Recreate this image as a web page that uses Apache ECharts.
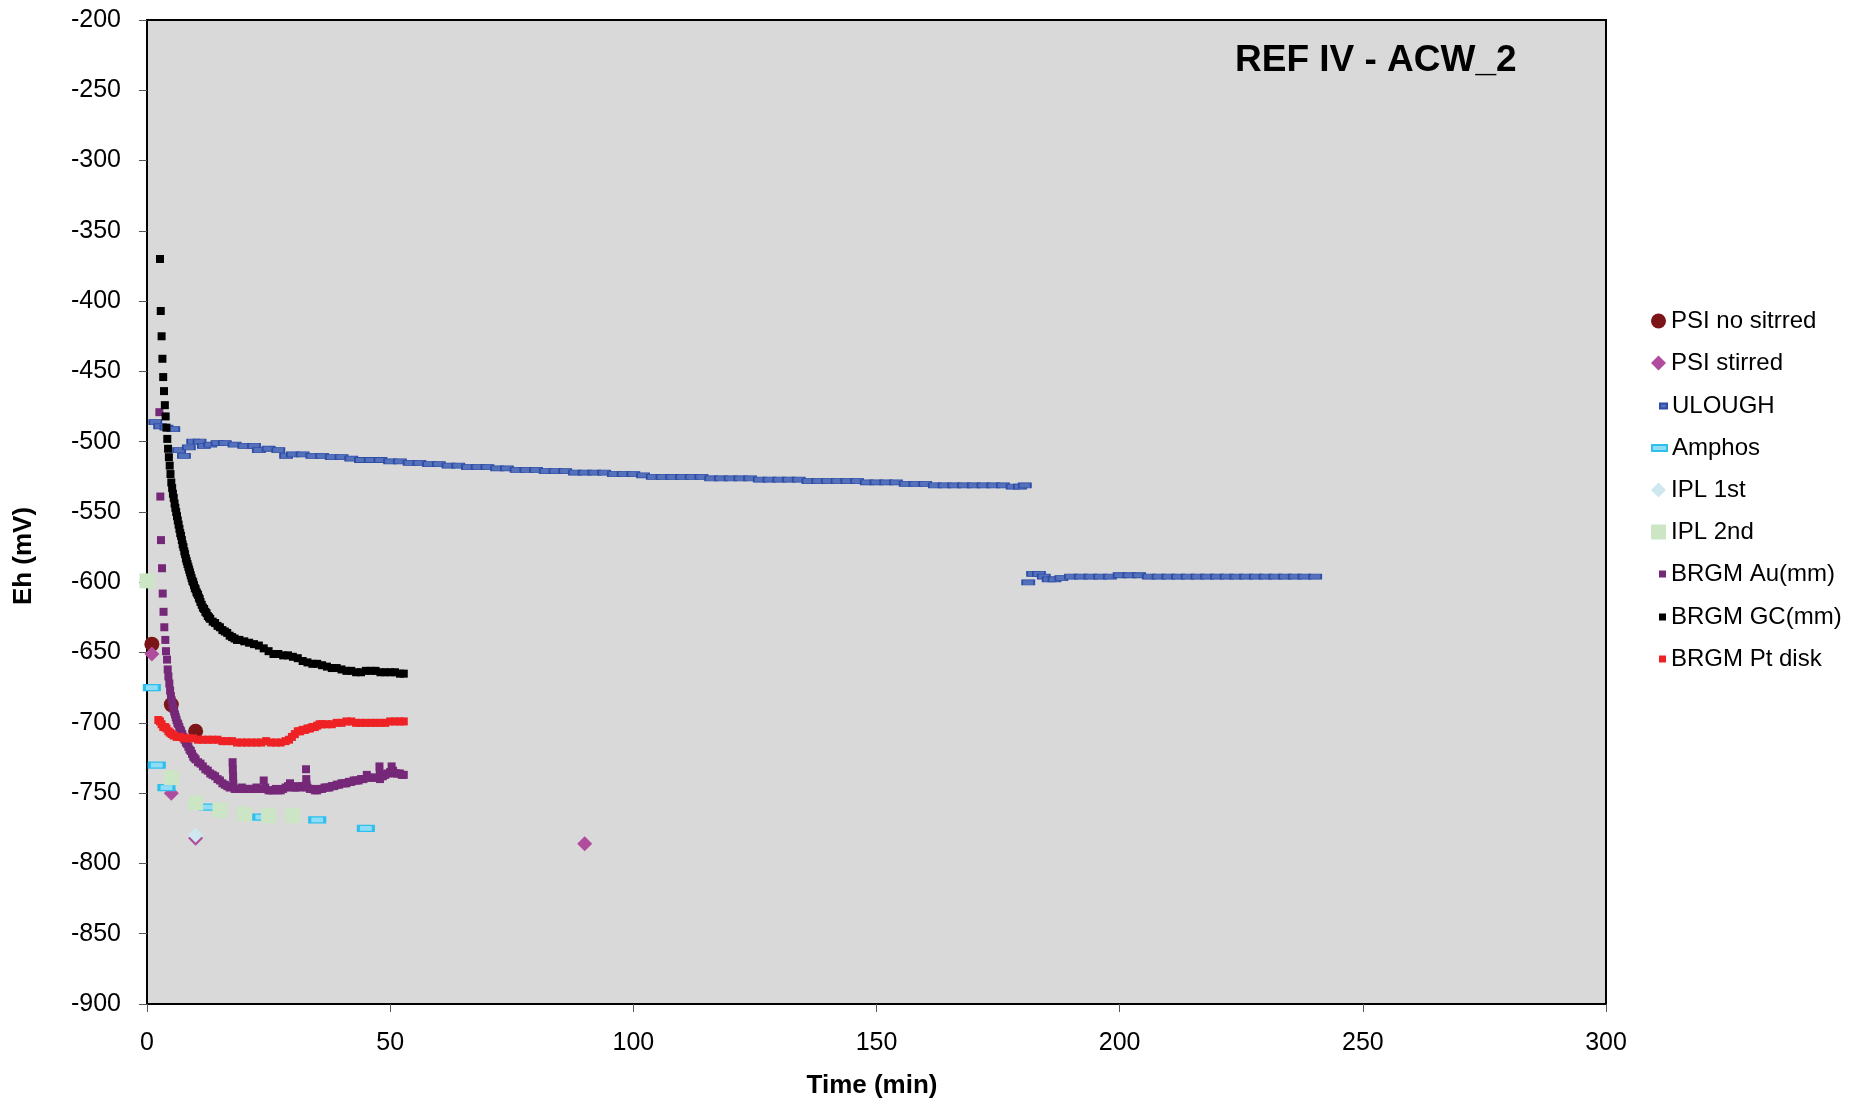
<!DOCTYPE html>
<html>
<head>
<meta charset="utf-8">
<title>REF IV - ACW_2</title>
<script src="https://cdn.jsdelivr.net/npm/echarts@6/dist/echarts.min.js"></script>
<style>
  html, body { margin: 0; padding: 0; background: #fff; }
  #chart { width: 1854px; height: 1104px; }
</style>
</head>
<body>
<div id="chart"></div>
<script>
// Eh (mV) against time (min) for each laboratory / electrode, as [time, Eh] pairs.
const psiNoStirred = [[1, -644], [5, -687], [10, -706]];

const psiStirred = [[1, -651], [5, -750], [10, -782], [90, -786]];

const ulough = [
  [1.7, -486], [2.7, -489], [4.0, -490], [5.4, -491], [6.6, -506], [7.6, -510], [8.6, -504],
  [9.5, -500], [10.8, -500], [11.7, -503], [13.0, -502], [14.5, -501], [16, -501], [18, -502],
  [20, -503], [22, -503], [23, -506], [25, -505], [27, -506], [28.6, -510], [30, -509], [32, -509],
  [34, -510], [36, -510], [38, -511], [40, -511], [42, -512], [44, -513], [46, -513], [48, -513],
  [50, -514], [52, -514], [54, -515], [56, -515], [58, -516], [60, -516], [62, -517], [64, -517],
  [66, -518], [68, -518], [70, -518], [72, -519], [74, -519], [76, -520], [78, -520], [80, -520],
  [82, -521], [84, -521], [86, -521], [88, -522], [90, -522], [92, -522], [94, -522], [96, -523],
  [98, -523], [100, -523], [102, -524], [104, -525], [106, -525], [108, -525], [110, -525],
  [112, -525], [114, -525], [116, -526], [118, -526], [120, -526], [122, -526], [124, -526],
  [126, -527], [128, -527], [130, -527], [132, -527], [134, -527], [136, -528], [138, -528],
  [140, -528], [142, -528], [144, -528], [146, -528], [148, -529], [150, -529], [152, -529],
  [154, -529], [156, -530], [158, -530], [160, -530], [162, -531], [164, -531], [166, -531],
  [168, -531], [170, -531], [172, -531], [174, -531], [176, -531], [178, -532], [179.5, -532],
  [180.5, -531],
  [181.2, -600], [182.2, -594], [183.4, -594], [184.4, -596], [185.4, -598], [186.6, -598],
  [188, -597], [190, -596], [192, -596], [194, -596], [196, -596], [198, -596], [200, -595],
  [202, -595], [204, -595], [206, -596], [208, -596], [210, -596], [212, -596], [214, -596],
  [216, -596], [218, -596], [220, -596], [222, -596], [224, -596], [226, -596], [228, -596],
  [230, -596], [232, -596], [234, -596], [236, -596], [238, -596], [240.2, -596]
];

const amphos = [[1, -675], [2, -730], [4, -746], [12.5, -760], [23.5, -767], [35, -769], [45, -775]];

const ipl1st = [[10, -780]];

const ipl2nd = [[0, -599], [5, -739], [10, -757], [15, -762], [20, -765], [25, -766], [30, -766]];

const brgmAu = [
  [2.54, -479], [2.74, -539], [2.88, -570], [3.09, -590], [3.23, -608], [3.40, -621], [3.56, -632],
  [3.77, -641], [3.91, -649], [4.12, -655], [4.26, -662],
  [4.4, -667], [4.59, -672], [4.75, -677], [4.92, -681], [5.08, -684], [5.25, -687], [5.42, -690],
  [5.58, -692], [5.76, -694], [5.92, -696], [6.08, -698], [6.25, -700], [6.42, -701], [6.64, -703],
  [6.83, -705], [7.0, -706], [7.25, -708], [7.5, -710], [7.75, -712], [8.0, -714], [8.25, -715],
  [8.5, -717], [8.75, -719], [9.0, -720], [9.25, -722], [9.5, -724], [9.75, -725], [10.0, -726],
  [10.5, -728], [11, -729], [11.5, -731], [12, -733], [12.5, -734], [13, -736], [13.5, -737],
  [14, -738], [14.5, -740], [15, -741], [15.5, -743], [16, -744], [16.5, -745], [17, -746],
  [17.6, -728], [17.65, -733], [17.7, -738], [17.75, -743], [18, -747], [18.5, -747], [19, -747],
  [19.5, -746], [20, -747], [20.5, -747], [21, -747], [21.5, -747], [22, -747], [22.5, -746],
  [23, -747], [23.5, -747], [24, -741], [24.3, -746], [25, -748], [25.5, -748], [26, -748],
  [26.5, -747], [27, -748], [27.5, -748], [28, -747], [28.5, -746], [29, -745], [29.4, -743],
  [30, -746], [30.5, -746], [31, -745], [31.5, -746], [32, -745], [32.7, -733], [32.75, -740],
  [32.8, -744], [33, -746], [33.5, -747], [34, -747], [34.5, -748], [35, -748], [35.5, -747],
  [36, -747], [36.5, -746], [37, -746], [37.5, -746], [38, -745], [38.5, -745], [39, -744],
  [39.5, -744], [40, -743], [40.5, -743], [41, -743], [41.5, -742], [42, -742], [42.5, -741],
  [43, -741], [43.5, -741], [44, -740], [44.5, -740], [45.2, -737], [45.5, -739], [46, -739],
  [46.5, -739], [47, -739], [47.8, -731], [47.85, -736], [47.9, -740], [48, -738], [48.5, -738],
  [49, -737], [49.5, -736], [50, -735], [50.3, -731], [50.35, -735], [50.6, -734], [51, -736],
  [51.4, -736], [52, -736], [52.4, -737], [52.8, -737]
];

const brgmGC = [
  [2.67, -370], [2.83, -407], [3.0, -425], [3.17, -441], [3.33, -454], [3.5, -464], [3.67, -474],
  [3.83, -482], [4.0, -490], [4.17, -498], [4.33, -505], [4.5, -511], [4.67, -517], [4.83, -523],
  [5.0, -529], [5.17, -533], [5.33, -537], [5.5, -540], [5.67, -544], [5.83, -547], [6.0, -550],
  [6.17, -553], [6.33, -556], [6.5, -559], [6.67, -562], [6.83, -565], [7.0, -567], [7.17, -570],
  [7.33, -573], [7.5, -575], [7.67, -578], [7.83, -580], [8.0, -583], [8.17, -585], [8.33, -587],
  [8.5, -589], [8.67, -591], [8.83, -593], [9.0, -595], [9.17, -597], [9.33, -599], [9.5, -600],
  [9.67, -602], [9.83, -604], [10.0, -605], [10.17, -607], [10.33, -608], [10.5, -609],
  [10.67, -611], [10.83, -612], [11.0, -614], [11.25, -616], [11.5, -618], [11.75, -619],
  [12.0, -621], [12.25, -622], [12.5, -624], [12.75, -625], [13.0, -626], [13.5, -628],
  [14.0, -629], [14.5, -631], [15.0, -632], [15.5, -634], [16.0, -635], [16.5, -636], [17.0, -638],
  [17.5, -639], [18.0, -640], [18.5, -641], [19, -641], [20, -642], [21, -643], [22, -644],
  [23, -645], [24, -647], [25, -649], [26, -651], [27, -651], [28, -652], [29, -652], [30, -653],
  [31, -654], [32, -656], [33, -657], [34, -658], [35, -658], [36, -659], [37, -660], [38, -661],
  [39, -661], [40, -662], [41, -663], [42, -663], [43, -664], [44, -664], [45, -663], [46, -663],
  [47, -663], [48, -664], [49, -664], [50, -664], [51, -664], [52, -665], [52.8, -665]
];

const brgmPt = [
  [2.33, -698], [2.67, -699], [3.0, -701], [3.35, -703], [3.7, -703], [4.0, -704], [4.4, -706],
  [4.73, -707], [5.08, -708], [5.5, -709], [6.1, -710], [6.8, -710], [7.5, -711], [8.5, -711],
  [9.5, -711], [10.5, -712], [11.5, -712], [12.5, -712], [13.5, -712], [14.5, -712], [15.5, -713],
  [16.5, -713], [17.5, -713], [18.5, -714], [19.5, -714], [20.5, -714], [21.5, -714], [22.5, -714],
  [23.5, -714], [24.5, -713], [25.5, -714], [26.5, -714], [27.5, -714], [28.5, -713], [29.2, -712],
  [29.8, -710], [30.4, -708], [31, -706], [31.5, -706], [32, -705], [32.5, -705], [33, -704],
  [33.5, -704], [34, -703], [34.5, -703], [35, -702], [35.5, -701], [36, -701], [37, -701],
  [38, -701], [39, -700], [40, -700], [41, -699], [42, -699], [43, -700], [44, -700], [45, -700],
  [46, -700], [47, -700], [48, -700], [49, -700], [50, -699], [51, -699], [52, -699], [52.8, -699]
];

const xTicks = { min: 0, max: 300, step: 50 };
const yTicks = { min: -900, max: -200, step: 50 };

const FONT = '"Liberation Sans", Arial, Helvetica, sans-serif';

// name, data, marker shape, marker size, fill, border, legend icon size
const seriesDefs = [
  { name: 'PSI no sitrred', data: psiNoStirred, symbol: 'circle', size: 15, color: '#7B1517', icon: [15, 15] },
  { name: 'PSI stirred', data: psiStirred, symbol: 'diamond', size: 15, color: '#B04C9E', icon: [15, 15] },
  { name: 'ULOUGH', data: ulough, symbol: 'rect', size: [12, 5], color: '#5571BC', border: '#2E4EA6', bw: 1.2, icon: [7, 5] },
  { name: 'Amphos', data: amphos, symbol: 'rect', size: [15, 6], color: '#8EDCF5', border: '#2DBFEE', bw: 2, icon: [15, 6] },
  { name: 'IPL 1st', data: ipl1st, symbol: 'diamond', size: 15, color: '#CFE8EF', icon: [15, 15] },
  { name: 'IPL 2nd', data: ipl2nd, symbol: 'rect', size: 15, color: '#CCE5C5', icon: [15, 15] },
  { name: 'BRGM Au(mm)', data: brgmAu, symbol: 'rect', size: 8, color: '#762878', icon: [7, 7] },
  { name: 'BRGM GC(mm)', data: brgmGC, symbol: 'rect', size: 8, color: '#000000', icon: [7, 7] },
  { name: 'BRGM Pt disk', data: brgmPt, symbol: 'rect', size: 8, color: '#EE2224', icon: [7, 7] }
];

const legendCenters = [321, 363, 406, 448, 490, 532, 574, 617, 659];
const legendTextX = 1671;

const series = seriesDefs.map((d, i) => ({
  name: d.name,
  type: 'scatter',
  data: d.data,
  symbol: d.symbol,
  symbolSize: d.size,
  clip: false,
  z: 2 + i,
  itemStyle: {
    color: d.color,
    opacity: 1,
    borderColor: d.border || d.color,
    borderWidth: d.bw || 0
  },
  emphasis: { disabled: true }
}));

const legends = seriesDefs.map((d, i) => ({
  data: [{ name: d.name, icon: d.symbol }],
  orient: 'vertical',
  left: legendTextX - 5 - d.icon[0],
  top: legendCenters[i] - 13,
  padding: 0,
  itemWidth: d.icon[0],
  itemHeight: d.icon[1],
  selectedMode: false,
  textStyle: { fontFamily: FONT, fontSize: 24, color: '#000', lineHeight: 26 }
}));

const chart = echarts.init(document.getElementById('chart'), null, { renderer: 'canvas' });

chart.setOption({
  animation: false,
  backgroundColor: '#ffffff',
  title: {
    text: 'REF IV - ACW_2',
    left: 1235,
    top: 42,
    padding: 0,
    textStyle: { fontFamily: FONT, fontSize: 37, fontWeight: 'bold', color: '#000' }
  },
  legend: legends,
  grid: {
    left: 147, right: 248, top: 20, bottom: 100,
    show: true,
    backgroundColor: '#D9D9D9',
    borderColor: '#000',
    borderWidth: 2
  },
  xAxis: {
    type: 'value',
    min: xTicks.min, max: xTicks.max, interval: xTicks.step,
    axisLine: { show: true, onZero: false, lineStyle: { color: '#000', width: 2 } },
    axisTick: { show: true, inside: false, length: 8, lineStyle: { color: '#555', width: 1 } },
    splitLine: { show: false },
    axisLabel: { fontFamily: FONT, fontSize: 25, color: '#000', margin: 27 }
  },
  yAxis: {
    type: 'value',
    min: yTicks.min, max: yTicks.max, interval: yTicks.step,
    axisLine: { show: true, onZero: false, lineStyle: { color: '#000', width: 2 } },
    axisTick: { show: true, inside: false, length: 8, lineStyle: { color: '#555', width: 1 } },
    splitLine: { show: false },
    axisLabel: { fontFamily: FONT, fontSize: 25, color: '#000', margin: 26 }
  },
  graphic: [
    {
      type: 'text',
      x: 24, y: 556,
      rotation: Math.PI / 2,
      style: {
        text: 'Eh (mV)', font: 'bold 26px ' + FONT, fill: '#000',
        align: 'center', verticalAlign: 'middle'
      }
    },
    {
      type: 'text',
      x: 872, y: 1086,
      style: {
        text: 'Time (min)', font: 'bold 26px ' + FONT, fill: '#000',
        align: 'center', verticalAlign: 'middle'
      }
    }
  ],
  series: series
});
</script>
</body>
</html>
